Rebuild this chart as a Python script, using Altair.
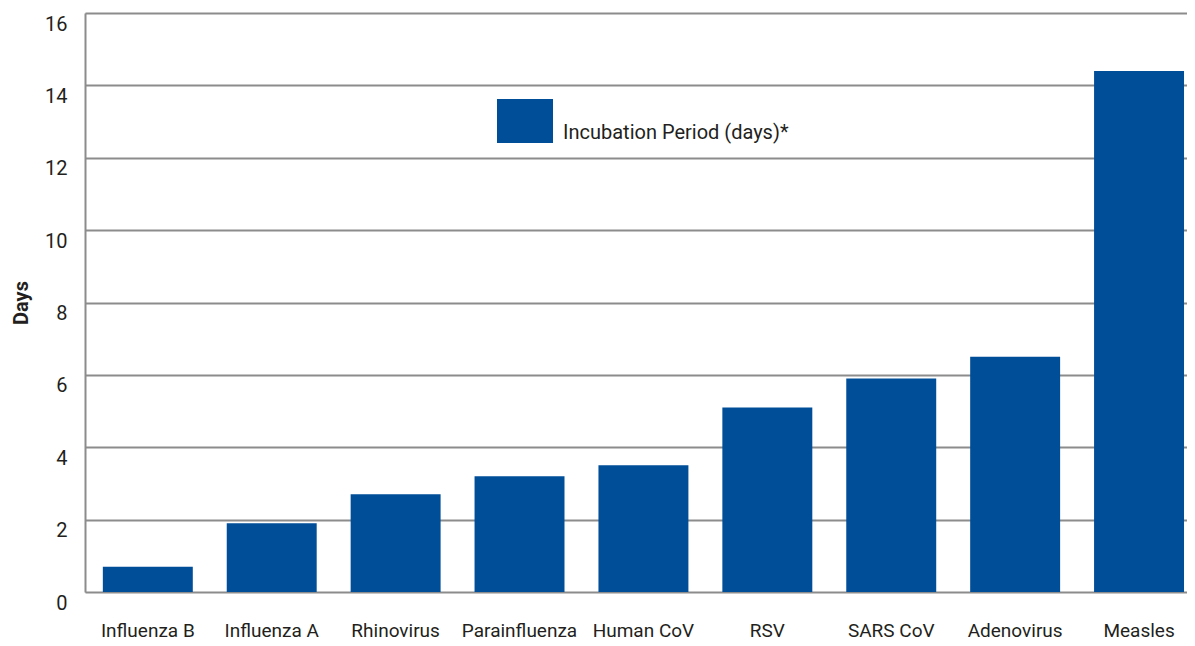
import altair as alt
import pandas as pd

viruses = ["Influenza B", "Influenza A", "Rhinovirus", "Parainfluenza", "Human CoV",
           "RSV", "SARS CoV", "Adenovirus", "Measles"]
days = [0.7, 1.9, 2.7, 3.2, 3.5, 5.1, 5.9, 6.5, 14.4]
series_name = "Incubation Period (days)*"

df = pd.DataFrame({"virus": viruses, "days": days, "series": [series_name] * len(viruses)})

FONT = "Roboto, Liberation Sans, sans-serif"
GRID = "#8c8c8c"
TEXT = "#231f20"
BLUE = "#014e98"

chart = alt.Chart(df).mark_bar().encode(
    x=alt.X("virus:N", sort=viruses, title=None,
            scale=alt.Scale(paddingInner=0.274, paddingOuter=0.084, align=0.857),
            axis=alt.Axis(labelAngle=0, labelFont=FONT, labelFontSize=19, labelColor=TEXT,
                          labelPadding=29, ticks=False, domain=False, grid=False)),
    y=alt.Y("days:Q", title="Days",
            scale=alt.Scale(domain=[0, 16], nice=False),
            axis=alt.Axis(values=[0, 2, 4, 6, 8, 10, 12, 14, 16], labelFont=FONT,
                          labelFontSize=20, labelColor=TEXT, labelPadding=18,
                          labelBaseline="middle", labelOffset=11,
                          ticks=False, domain=True, domainColor=GRID, domainWidth=2,
                          grid=True, gridColor=GRID, gridWidth=2,
                          titleFont=FONT, titleFontSize=20, titleFontWeight="bold",
                          titleColor=TEXT, titlePadding=13)),
    color=alt.Color("series:N", scale=alt.Scale(range=[BLUE]),
                    legend=alt.Legend(title=None, orient="none", legendX=412, legendY=92,
                                      padding=0,
                                      symbolType="M-1,-1.214H1V0.357H-1Z",
                                      symbolSize=3136, symbolStrokeWidth=0,
                                      symbolOpacity=1,
                                      labelFont=FONT, labelFontSize=20, labelColor=TEXT,
                                      labelOffset=10, labelLimit=400)),
).properties(
    width=1102, height=579,
    autosize=alt.AutoSizeParams(type="none"),
    padding={"left": 77, "top": 5, "right": 0, "bottom": 52},
).configure_view(stroke=None).configure(background="white")

chart.save("out.html", embed_options={"renderer": "svg", "actions": False})
